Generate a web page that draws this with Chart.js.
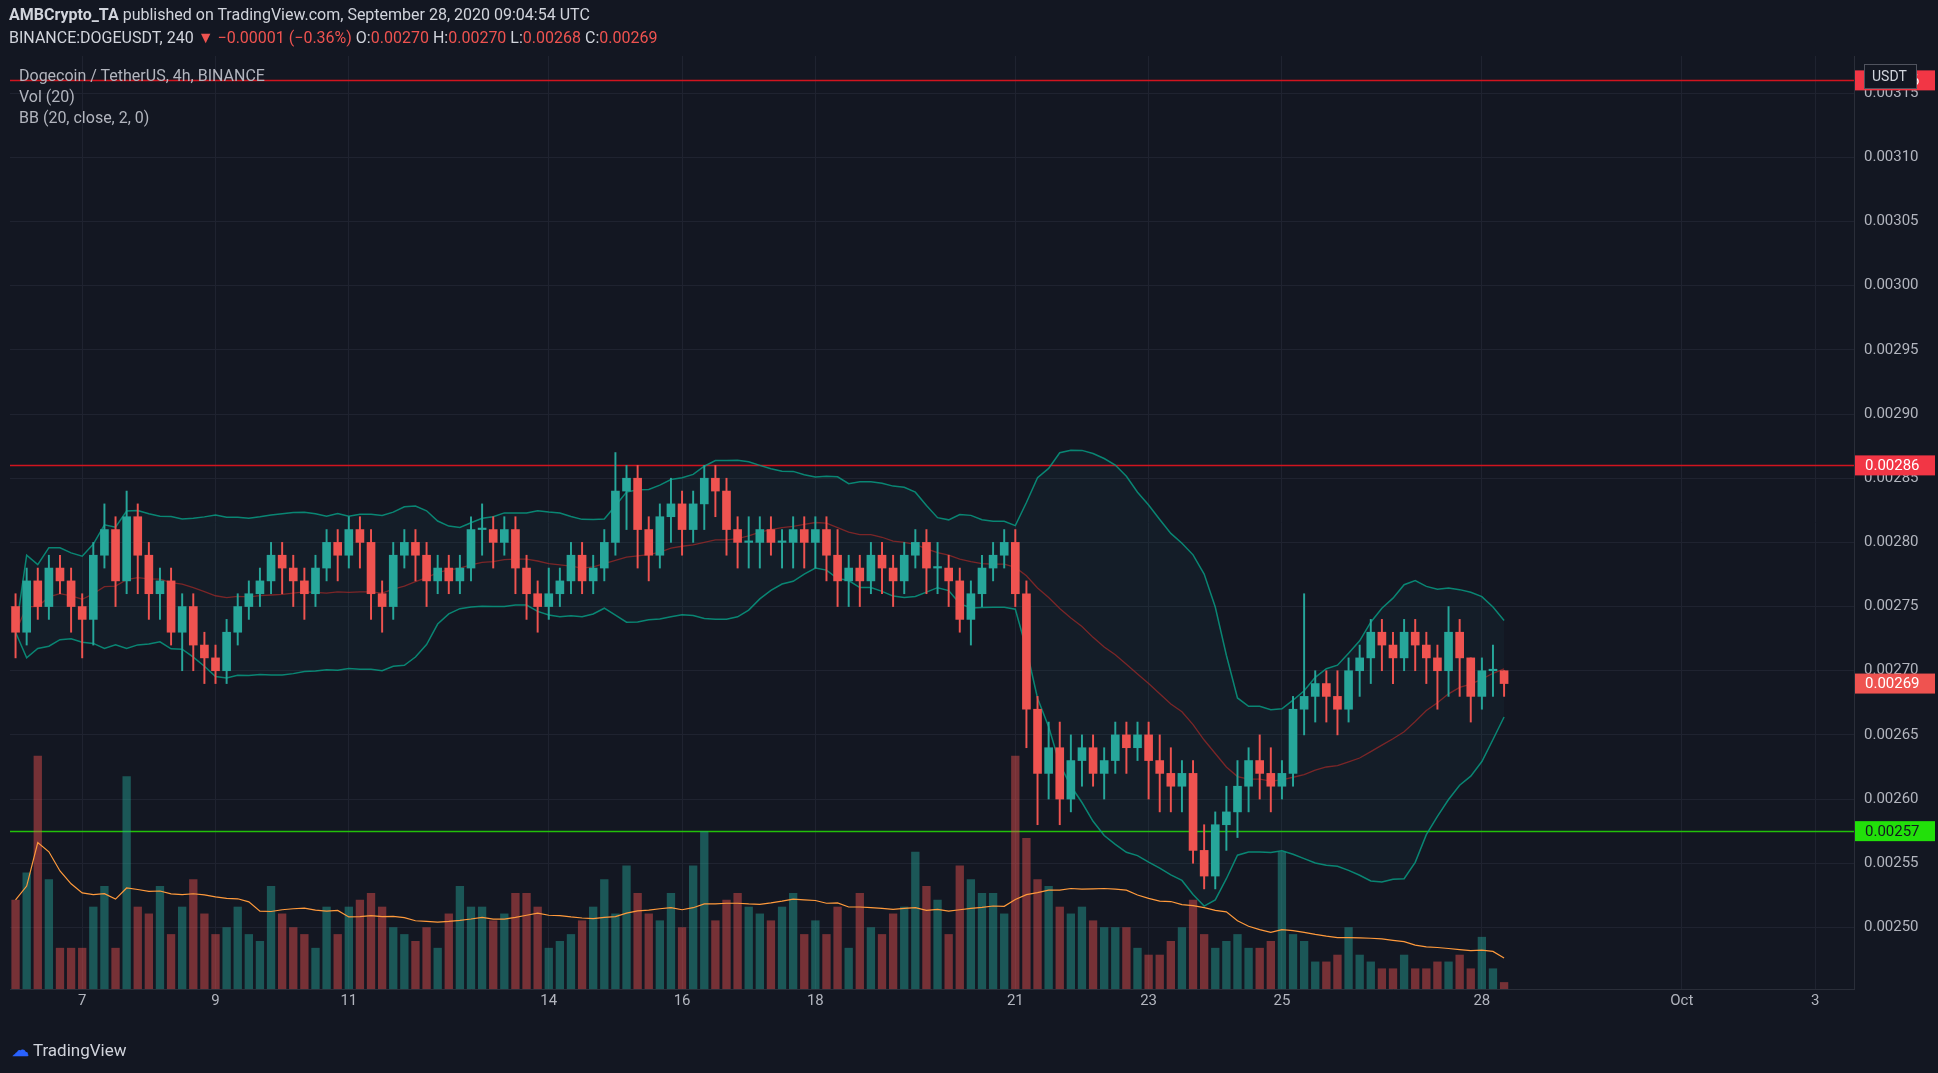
<!DOCTYPE html>
<html>
<head>
<meta charset="utf-8">
<script src="https://cdn.jsdelivr.net/npm/chart.js@4/dist/chart.umd.min.js"></script>
<style>
  html, body { margin: 0; padding: 0; background: #131722; overflow: hidden; }
  #wrap { position: relative; width: 1938px; height: 1073px; }
  canvas { position: absolute; left: 0; top: 0; }
  .t { position: absolute; font-family: Roboto, "Liberation Sans", sans-serif; color: #d1d4dc; white-space: nowrap; }
  .red { color: #ef5350; }
  .g { color: #b2b5be; }
</style>
</head>
<body>
<div id="wrap">
  <canvas id="chart" width="1938" height="1073"></canvas>
  <div class="t" style="left:9px;top:5px;font-size:16px;"><b>AMBCrypto_TA</b> published on TradingView.com, September 28, 2020 09:04:54 UTC</div>
  <div class="t" style="left:9px;top:28px;font-size:16px;">BINANCE:DOGEUSDT, 240 <span class="red">&#9660; &minus;0.00001 (&minus;0.36%)</span> O:<span class="red">0.00270</span> H:<span class="red">0.00270</span> L:<span class="red">0.00268</span> C:<span class="red">0.00269</span></div>
  <div class="t g" style="left:19px;top:66px;font-size:16px;">Dogecoin / TetherUS, 4h, BINANCE</div>
  <div class="t g" style="left:19px;top:87px;font-size:16px;">Vol (20)</div>
  <div class="t g" style="left:19px;top:108px;font-size:16px;">BB (20, close, 2, 0)</div>
  <div class="t" style="left:12px;top:1040px;font-size:17px;"><span style="color:#2962ff;font-weight:bold;">&#9729;</span> TradingView</div>
</div>
<script>
// prices in units of 0.00001 USDT, 4h candles from Sep 6 00:00
var opens = [275,273,277,275,278,277, 275,274,279,281,277,282, 279,276,277,273,275,272, 271,270,273,275,276,277,
  279,278,277,276,278,280, 279,281,280,276,275,279, 280,279,277,278,277,278, 281,281,280,281,278,276,
  275,276,277,279,277,278, 280,284,285,281,279,282, 283,281,283,285,284,281, 280,280,281,280,280,281,
  280,281,279,277,278,277, 279,278,277,279,280,278, 278,277,274,276,278,279, 280,276,267,262,264,260,
  263,264,262,263,265,264, 265,263,262,261,262,256, 254,258,259,261,263,262, 261,262,267,268,269,268,
  267,270,271,273,272,271, 273,272,271,270,273,271, 268,270,270];
var highs = [276,278,278,279,279,278, 276,280,283,282,284,283, 280,278,278,276,276,273, 272,274,276,277,278,280,
  280,279,278,279,281,281, 282,282,281,277,280,281, 281,280,279,279,279,282, 283,282,282,282,279,277,
  278,278,280,280,279,281, 287,286,286,282,283,285, 284,284,286,286,285,282, 282,282,282,281,282,282,
  282,282,281,279,279,280, 280,279,280,281,281,280, 279,278,277,279,280,281, 281,277,268,266,266,265,
  265,265,264,266,266,266, 266,265,264,263,263,258, 259,261,263,264,265,264, 263,268,276,270,270,270,
  271,272,274,274,273,274, 274,273,272,275,274,271, 271,272,270];
var lows = [271,272,274,274,276,273, 271,272,278,275,276,276, 274,274,272,270,270,269, 269,269,272,274,275,276,
  276,275,274,275,277,277, 278,278,274,273,274,278, 277,275,276,276,276,277, 279,278,279,276,274,273,
  274,275,276,276,276,277, 279,281,278,277,278,280, 279,280,281,282,279,278, 278,278,279,278,278,278,
  278,277,275,275,275,276, 276,275,276,278,276,276, 275,273,272,275,277,278, 275,264,258,260,258,259,
  261,261,260,262,262,263, 260,259,259,259,255,253, 253,256,257,259,260,259, 260,261,265,266,266,265,
  266,268,269,270,269,270, 270,269,267,268,268,266, 267,268,268];
var closes = [273,277,275,278,277,275, 274,279,281,277,282,279, 276,277,273,275,272,271, 270,273,275,276,277,279,
  278,277,276,278,280,279, 281,280,276,275,279,280, 279,277,278,277,278,281, 281,280,281,278,276,275,
  276,277,279,277,278,280, 284,285,281,279,282,283, 281,283,285,284,281,280, 280,281,280,280,281,280,
  281,279,277,278,277,279, 278,277,279,280,278,278, 277,274,276,278,279,280, 276,267,262,264,260,263,
  264,262,263,265,264,265, 263,262,261,262,256,254, 258,259,261,263,262,261, 262,267,268,269,268,267,
  270,271,273,272,271,273, 272,271,270,273,271,268, 270,270,269];
var volumes = [65,85,170,80,30,30, 30,60,75,30,155,60, 55,75,40,60,80,55, 40,45,60,40,35,75,
  55,45,40,30,60,40, 60,65,70,60,45,40, 35,45,30,55,75,60, 60,50,55,70,70,60,
  30,35,40,50,60,80, 55,90,70,55,50,70, 45,90,115,50,65,70, 60,55,50,60,70,40,
  50,40,60,30,70,45, 40,55,60,100,75,65, 40,90,80,70,70,55, 170,110,80,75,60,55,
  60,50,45,45,45,30, 25,25,35,45,65,40, 30,35,40,30,30,35, 100,40,35,20,20,25,
  45,25,20,15,15,25, 15,15,20,20,25,15, 38,15,5];
var dayTicks = { 6: '7', 18: '9', 30: '11', 48: '14', 60: '16', 72: '18', 90: '21', 102: '23', 114: '25', 132: '28', 150: 'Oct', 162: '3' };
var priceTicks = [0.0025,0.00255,0.0026,0.00265,0.0027,0.00275,0.0028,0.00285,0.0029,0.00295,0.003,0.00305,0.0031,0.00315];
var levels = [
  { v: 0.00316, text: '0.00316', bg: '#f23645', line: '#d1141f' },
  { v: 0.00286, text: '0.00286', bg: '#f23645', line: '#d1141f' },
  { v: 0.002575, text: '0.00257', bg: '#22e00a', line: '#22c00a', fg: '#131722' }
];
var lastPrice = { v: 0.00269, text: '0.00269', bg: '#ef5350' };

var SLOTS = 166;
var U = 0.00001;
var green = '#26a69a', red = '#ef5350';

var labels = [];
for (var i = 0; i < SLOTS; i++) labels.push(dayTicks[i] || '');

var n = closes.length;
var bodies = [], wicks = [], candleColors = [], vols = [], volColors = [];
for (var i = 0; i < n; i++) {
  bodies.push([opens[i] * U, closes[i] * U]);
  wicks.push([lows[i] * U, highs[i] * U]);
  var up = closes[i] >= opens[i];
  candleColors.push(up ? green : red);
  vols.push(volumes[i]);
  volColors.push(up ? 'rgba(38,166,154,0.45)' : 'rgba(239,83,80,0.45)');
}

// Bollinger bands (20, 2) and volume MA (20)
var bbUp = [], bbLo = [], bbMid = [], volMa = [];
for (var i = 0; i < n; i++) {
  var s = Math.max(0, i - 19), win = closes.slice(s, i + 1).map(function (c) { return c * U; });
  var m = win.reduce(function (a, b) { return a + b; }, 0) / win.length;
  var sd = Math.sqrt(win.reduce(function (a, b) { return a + (b - m) * (b - m); }, 0) / win.length);
  bbMid.push(m); bbUp.push(m + 2 * sd); bbLo.push(m - 2 * sd);
  var vw = volumes.slice(s, i + 1);
  volMa.push(vw.reduce(function (a, b) { return a + b; }, 0) / vw.length);
}

function priceBox(ctx, chart, y, text, bg, fg) {
  var x0 = chart.chartArea.right + 1;
  ctx.fillStyle = bg;
  ctx.fillRect(x0, y - 10, 80, 20);
  ctx.fillStyle = fg || '#ffffff';
  ctx.font = '15px Roboto, sans-serif';
  ctx.textBaseline = 'middle';
  ctx.textAlign = 'left';
  ctx.fillText(text, x0 + 10, y + 1);
}

var levelPlugin = {
  id: 'levels',
  beforeDatasetsDraw: function (chart) {
    var ctx = chart.ctx, a = chart.chartArea, y = chart.scales.y;
    ctx.save();
    levels.forEach(function (l) {
      var py = Math.round(y.getPixelForValue(l.v)) + 0.5;
      ctx.strokeStyle = l.line; ctx.lineWidth = 1.5;
      ctx.beginPath(); ctx.moveTo(a.left, py); ctx.lineTo(a.right, py); ctx.stroke();
    });
    ctx.restore();
  },
  afterDraw: function (chart) {
    var ctx = chart.ctx, y = chart.scales.y;
    ctx.save();
    levels.forEach(function (l) { priceBox(ctx, chart, y.getPixelForValue(l.v), l.text, l.bg, l.fg); });
    priceBox(ctx, chart, y.getPixelForValue(lastPrice.v), lastPrice.text, lastPrice.bg);
    // USDT tag
    var x0 = chart.chartArea.right + 10;
    ctx.fillStyle = '#131722';
    ctx.fillRect(x0, 64, 52, 24);
    ctx.strokeStyle = '#50535e'; ctx.lineWidth = 1;
    ctx.strokeRect(x0 + 0.5, 64.5, 52, 24);
    ctx.fillStyle = '#d1d4dc'; ctx.font = '14px Roboto, sans-serif';
    ctx.textBaseline = 'middle'; ctx.fillText('USDT', x0 + 8, 77);
    ctx.restore();
  }
};

new Chart(document.getElementById('chart').getContext('2d'), {
  type: 'bar',
  data: {
    labels: labels,
    datasets: [
      { type: 'line', data: bbUp, borderColor: 'rgba(8,153,129,0.85)', borderWidth: 1.5, pointRadius: 0, tension: 0, order: 5 },
      { type: 'line', data: bbLo, borderColor: 'rgba(8,153,129,0.85)', borderWidth: 1.5, pointRadius: 0, tension: 0,
        fill: '-1', backgroundColor: 'rgba(38,166,154,0.05)', order: 5 },
      { type: 'line', data: bbMid, borderColor: 'rgba(150,40,40,0.8)', borderWidth: 1.3, pointRadius: 0, tension: 0, order: 4 },
      { data: vols, yAxisID: 'yv', backgroundColor: volColors, barPercentage: 0.75, categoryPercentage: 1, grouped: false, order: 6 },
      { type: 'line', data: volMa, yAxisID: 'yv', borderColor: '#ff9a3c', borderWidth: 1.2, pointRadius: 0, tension: 0, order: 3 },
      { data: wicks, backgroundColor: candleColors, barThickness: 1.3, grouped: false, order: 2 },
      { data: bodies, backgroundColor: candleColors, barThickness: 8, grouped: false, order: 1, minBarLength: 1.5 }
    ]
  },
  options: {
    responsive: false,
    animation: false,
    layout: { padding: { left: 10, top: 56, bottom: 45, right: 0 } },
    plugins: { legend: { display: false }, tooltip: { enabled: false } },
    scales: {
      x: {
        ticks: {
          autoSkip: false, maxRotation: 0, color: '#b2b5be', font: { size: 15, family: 'Roboto' },
          callback: function (v, i) { return labels[i]; }
        },
        grid: {
          offset: false, drawTicks: false,
          color: function (c) { return c.tick && labels[c.index] ? '#1f2330' : 'rgba(0,0,0,0)'; }
        },
        border: { color: '#2a2e39' },
        afterFit: function (s) { s.height = 39; }
      },
      y: {
        position: 'right', min: 0.002452, max: 0.003179,
        afterBuildTicks: function (s) { s.ticks = priceTicks.map(function (v) { return { value: v }; }); },
        ticks: { color: '#b2b5be', font: { size: 15, family: 'Roboto' }, padding: 10,
          callback: function (v) { return v.toFixed(5); } },
        grid: { color: '#1f2330', drawTicks: false },
        border: { color: '#2a2e39' },
        afterFit: function (s) { s.width = 84; }
      },
      yv: { display: false, min: 0, max: 680 }
    }
  },
  plugins: [levelPlugin]
});
</script>
</body>
</html>
